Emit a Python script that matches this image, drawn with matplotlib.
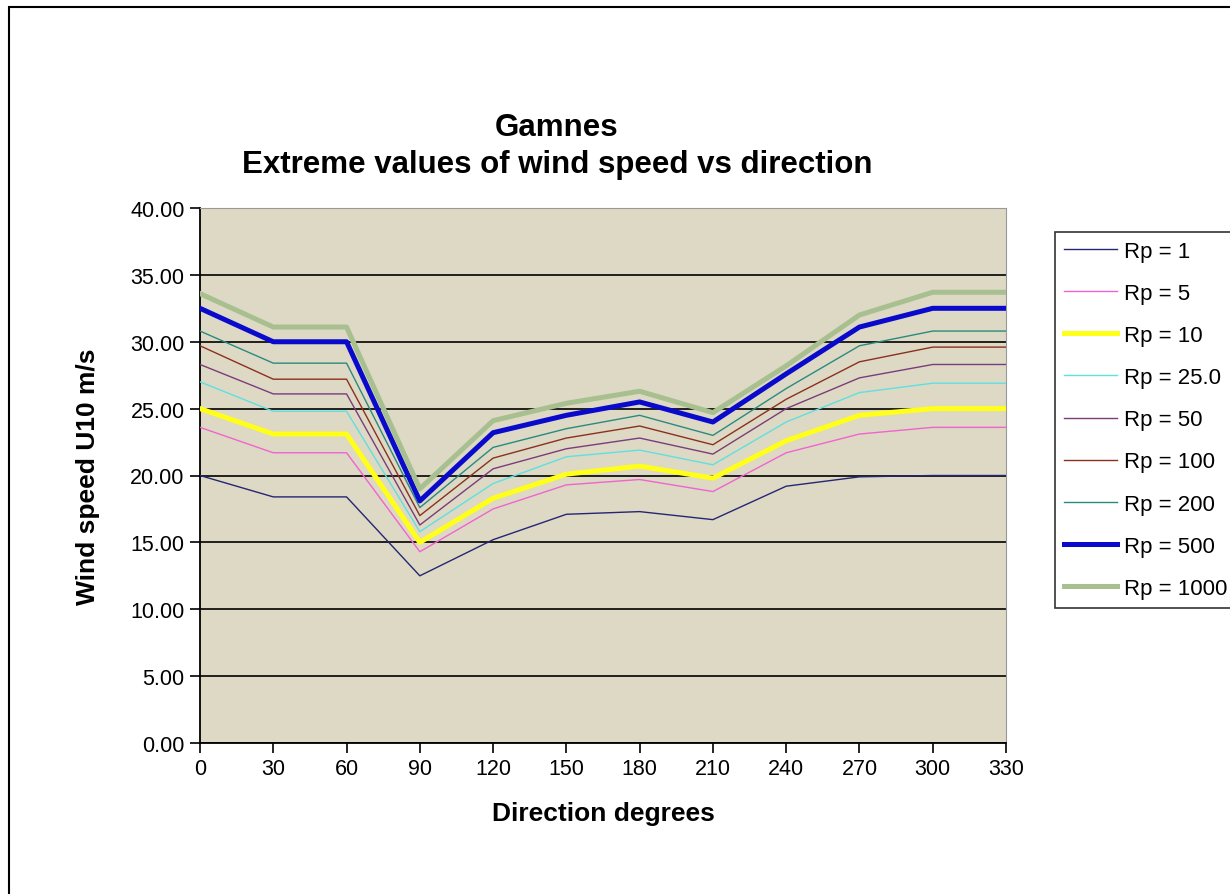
import matplotlib.pyplot as plt
from matplotlib.patches import Rectangle

plt.rcParams['font.family'] = ['Liberation Sans', 'DejaVu Sans']

# Data
directions = [0, 30, 60, 90, 120, 150, 180, 210, 240, 270, 300, 330]
rp1 = [20.0, 18.4, 18.4, 12.5, 15.2, 17.1, 17.3, 16.7, 19.2, 19.9, 20.0, 20.0]
rp5 = [23.6, 21.7, 21.7, 14.3, 17.5, 19.3, 19.7, 18.8, 21.7, 23.1, 23.6, 23.6]
rp10 = [25.0, 23.1, 23.1, 15.0, 18.3, 20.1, 20.7, 19.8, 22.6, 24.5, 25.0, 25.0]
rp25 = [27.0, 24.8, 24.8, 15.8, 19.4, 21.4, 21.9, 20.8, 24.0, 26.2, 26.9, 26.9]
rp50 = [28.3, 26.1, 26.1, 16.3, 20.5, 22.0, 22.8, 21.6, 25.0, 27.3, 28.3, 28.3]
rp100 = [29.7, 27.2, 27.2, 17.0, 21.3, 22.8, 23.7, 22.3, 25.7, 28.5, 29.6, 29.6]
rp200 = [30.8, 28.4, 28.4, 17.6, 22.1, 23.5, 24.5, 23.0, 26.5, 29.7, 30.8, 30.8]
rp500 = [32.5, 30.0, 30.0, 18.1, 23.2, 24.5, 25.5, 24.0, 27.6, 31.1, 32.5, 32.5]
rp1000 = [33.6, 31.1, 31.1, 19.0, 24.1, 25.4, 26.3, 24.7, 28.2, 32.0, 33.7, 33.7]

labels = ['Rp = 1', 'Rp = 5', 'Rp = 10', 'Rp = 25.0', 'Rp = 50',
          'Rp = 100', 'Rp = 200', 'Rp = 500', 'Rp = 1000']
series = [rp1, rp5, rp10, rp25, rp50, rp100, rp200, rp500, rp1000]
colors = ['#262673', '#f064d0', '#ffff1a', '#5fe0e0', '#7b3c7b',
          '#8b3020', '#2a8a80', '#0a0acc', '#a8c090']
widths = [1.0, 1.0, 3.6, 1.0, 1.0, 1.0, 1.0, 3.6, 3.6]

fig = plt.figure(figsize=(12.3, 8.95), dpi=100)
ax = fig.add_axes([200/1230, 1-744/895, 806/1230, 535/895])
ax.set_facecolor('#ddd9c4')

for vals, lab, c, w in zip(series, labels, colors, widths):
    ax.plot(directions, vals, color=c, lw=w, label=lab, zorder=3)

ax.set_xlim(0, 330)
ax.set_ylim(0, 40)
ax.set_xticks(directions)
ax.set_yticks(range(0, 41, 5))
ax.set_yticklabels([f'{v:.2f}' for v in range(0, 41, 5)])
ax.tick_params(labelsize=15.5, length=7, width=1.2, direction='out', pad=4)
ax.yaxis.grid(True, color='black', lw=1.2)
ax.set_axisbelow(True)

for s in ['top', 'right']:
    ax.spines[s].set_color('#999999')
    ax.spines[s].set_linewidth(0.8)
for s in ['left', 'bottom']:
    ax.spines[s].set_linewidth(1.3)

ax.set_ylabel('Wind speed U10 m/s', fontsize=19, fontweight='bold', labelpad=22)
ax.set_xlabel('Direction degrees', fontsize=19, fontweight='bold', labelpad=16)

fig.text(557/1230, 1-128/895, 'Gamnes', ha='center', va='center',
         fontsize=22.5, fontweight='bold')
fig.text(557/1230, 1-165/895, 'Extreme values of wind speed vs direction',
         ha='center', va='center', fontsize=22.5, fontweight='bold')

leg = fig.legend(loc='upper left', bbox_to_anchor=(1055/1230, 1-233/895),
                 fontsize=16, frameon=True, fancybox=False, handlelength=2.4,
                 labelspacing=0.95, handletextpad=0.3, borderpad=0.4,
                 borderaxespad=0)
leg.get_frame().set_edgecolor('black')
leg.get_frame().set_linewidth(1.2)

# chart area border (cut off at right and bottom)
fig.patches.append(Rectangle((9/1230, -0.1), 1.2, 1.1 - 8/895, fill=False,
                             ec='black', lw=1.5, transform=fig.transFigure))

fig.savefig('out.png', dpi=100)
